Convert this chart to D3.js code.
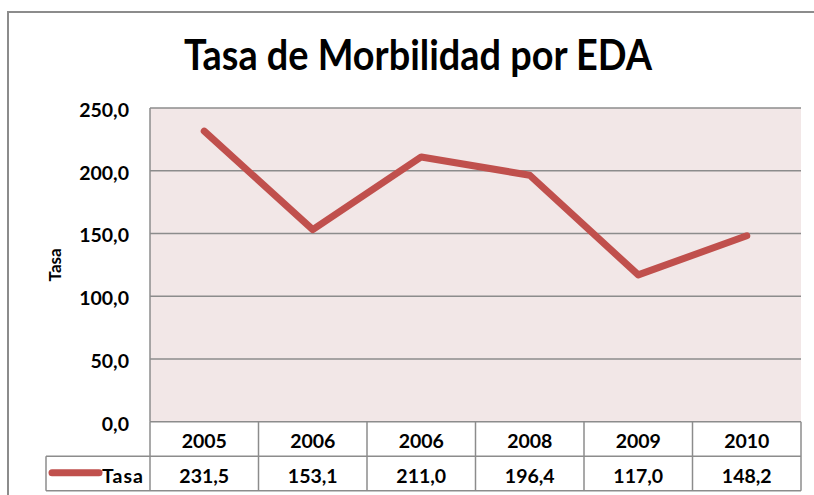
<!DOCTYPE html>
<html>
<head>
<meta charset="utf-8">
<script src="https://cdn.jsdelivr.net/npm/d3@7"></script>
<style>
  body { margin: 0; background: #fff; }
  text { font-family: Lato, "Open Sans", sans-serif; font-weight: bold; fill: #000; }
</style>
</head>
<body>
<script>
// chart data
const years = ['2005', '2006', '2006', '2008', '2009', '2010'];
const tasa = [231.5, 153.1, 211.0, 196.4, 117.0, 148.2];
const yTicks = [0, 50, 100, 150, 200, 250];
const seriesName = 'Tasa';

const width = 814;
const height = 495;
const plot = { left: 150, top: 108, right: 801, bottom: 421.7 };
const rowH = 34.5;
const red = '#C0504D';
const grid = '#8c8c8c';
const fmt = v => d3.format('.1f')(v).replace('.', ',');

const svg = d3.select('body').append('svg').attr('width', width).attr('height', height);

// outer chart frame
svg.append('rect')
  .attr('x', 8).attr('y', 12)
  .attr('width', 830).attr('height', 500)
  .attr('fill', '#fff')
  .attr('stroke', '#8c8c8c').attr('stroke-width', 2);

svg.append('text')
  .attr('x', 418).attr('y', 70)
  .attr('text-anchor', 'middle')
  .attr('font-size', 42)
  .attr('textLength', 468).attr('lengthAdjust', 'spacingAndGlyphs')
  .text('Tasa de Morbilidad por EDA');

const idx = d3.range(years.length);
const x = d3.scaleBand().domain(idx).range([plot.left, plot.right]);
const y = d3.scaleLinear().domain([0, 250]).range([plot.bottom, plot.top]);

svg.append('rect')
  .attr('x', plot.left).attr('y', plot.top)
  .attr('width', plot.right - plot.left).attr('height', plot.bottom - plot.top)
  .attr('fill', '#F2E7E7');

// gridlines
svg.append('g').selectAll('line')
  .data(yTicks.filter(t => t > 0))
  .enter().append('line')
    .attr('x1', plot.left).attr('x2', plot.right)
    .attr('y1', d => y(d)).attr('y2', d => y(d))
    .attr('stroke', grid).attr('stroke-width', 1.5);

// left axis line
svg.append('line')
  .attr('x1', plot.left).attr('x2', plot.left)
  .attr('y1', plot.top).attr('y2', plot.bottom)
  .attr('stroke', grid).attr('stroke-width', 1.5);

// y tick labels
svg.append('g').selectAll('text')
  .data(yTicks)
  .enter().append('text')
    .attr('x', 129)
    .attr('y', d => y(d) + 9)
    .attr('text-anchor', 'end')
    .attr('font-size', 19.5)
    .text(d => fmt(d));

svg.append('text')
  .attr('transform', `translate(61, ${(plot.top + plot.bottom) / 2}) rotate(-90)`)
  .attr('text-anchor', 'middle')
  .attr('font-size', 17)
  .text(seriesName);

// data table
const tbl = svg.append('g').attr('stroke', grid).attr('stroke-width', 1.5).attr('fill', 'none');
const tableBottom = plot.bottom + 2 * rowH;
tbl.append('line')
  .attr('x1', plot.left).attr('x2', plot.right)
  .attr('y1', plot.bottom).attr('y2', plot.bottom);
tbl.append('line')
  .attr('x1', 46).attr('x2', plot.right)
  .attr('y1', plot.bottom + rowH).attr('y2', plot.bottom + rowH);
tbl.append('line')
  .attr('x1', 46).attr('x2', plot.right)
  .attr('y1', tableBottom).attr('y2', tableBottom);
tbl.append('line')
  .attr('x1', 46).attr('x2', 46)
  .attr('y1', plot.bottom + rowH).attr('y2', tableBottom);
tbl.selectAll('.col')
  .data(idx.concat([years.length]))
  .enter().append('line')
    .attr('x1', d => d < years.length ? x(d) : plot.right)
    .attr('x2', d => d < years.length ? x(d) : plot.right)
    .attr('y1', plot.bottom).attr('y2', tableBottom);

svg.append('g').selectAll('text')
  .data(idx)
  .enter().append('text')
    .attr('x', d => x(d) + x.bandwidth() / 2)
    .attr('y', plot.bottom + 26.5)
    .attr('text-anchor', 'middle')
    .attr('font-size', 19.5)
    .text(d => years[d]);

svg.append('g').selectAll('text')
  .data(idx)
  .enter().append('text')
    .attr('x', d => x(d) + x.bandwidth() / 2)
    .attr('y', plot.bottom + rowH + 27)
    .attr('text-anchor', 'middle')
    .attr('font-size', 19.5)
    .text(d => fmt(tasa[d]));

// legend key
svg.append('line')
  .attr('x1', 52).attr('x2', 99)
  .attr('y1', plot.bottom + rowH + 16.5).attr('y2', plot.bottom + rowH + 16.5)
  .attr('stroke', red).attr('stroke-width', 7).attr('stroke-linecap', 'round');
svg.append('text')
  .attr('x', 102).attr('y', plot.bottom + rowH + 27)
  .attr('font-size', 19.5)
  .attr('letter-spacing', 1)
  .text(seriesName);

// series line
const line = d3.line()
  .x(d => x(d) + x.bandwidth() / 2)
  .y(d => y(tasa[d]));
svg.append('path')
  .datum(idx)
  .attr('d', line)
  .attr('fill', 'none')
  .attr('stroke', red)
  .attr('stroke-width', 7)
  .attr('stroke-linecap', 'round')
  .attr('stroke-linejoin', 'round');
</script>
</body>
</html>
